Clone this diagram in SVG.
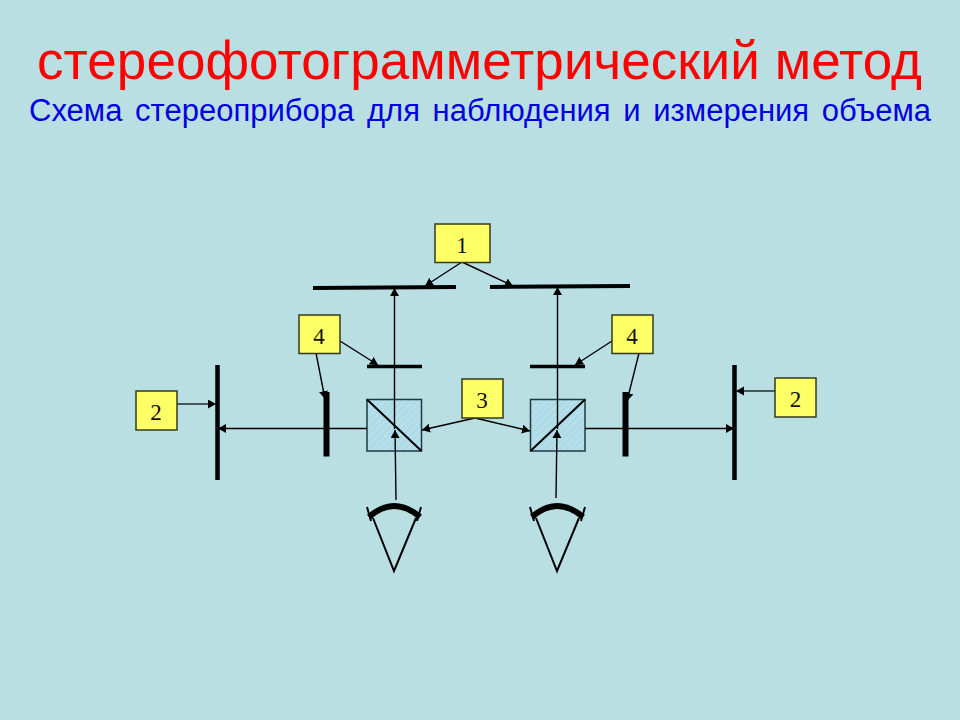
<svg xmlns="http://www.w3.org/2000/svg" width="960" height="720" viewBox="0 0 960 720">
<style>
.title{font-family:"Liberation Sans",Arial,sans-serif}
.box{fill:#ffff66;stroke:#333a1e;stroke-width:1.5}
.lbl{font-family:"Liberation Serif","Times New Roman",serif;font-size:23px;fill:#111;text-anchor:middle}
.thin{stroke:#000;stroke-width:1.4;fill:none}
.arr{stroke:#000;stroke-width:1.4;fill:none;marker-end:url(#a)}
.arr2{stroke:#1c2e32;stroke-width:1.4;fill:none;marker-end:url(#a)}
.thick{stroke:#000;fill:none}
.cube{fill:url(#h);stroke:#1c3a42;stroke-width:1.5}
</style>
<defs>
<marker id="a" markerUnits="userSpaceOnUse" markerWidth="10" markerHeight="10" refX="8" refY="4.500" orient="auto"><path d="M0 0L8 4.500L0 9Z" fill="#000"/></marker>
<pattern id="h" width="5" height="5" patternUnits="userSpaceOnUse" patternTransform="rotate(45)"><rect width="5" height="5" fill="#aedbe8"/><rect width="1" height="5" fill="#c5e2e8"/></pattern>
</defs>
<rect width="960" height="720" fill="#b9dfe3"/>
<text class="title" x="37" y="79" font-size="53" fill="#ff0000" textLength="885" lengthAdjust="spacing">стереофотограмметрический метод</text>
<text class="title" x="29" y="120.500" font-size="31" fill="#0000e0" word-spacing="4" textLength="902" lengthAdjust="spacing">Схема стереоприбора для наблюдения и измерения объема</text>

<g id="optics">
<path class="thick" stroke-width="4" d="M313 288L456 287M490 287L630 286"/>
<path class="thick" stroke-width="3.500" d="M367 366.500H422M530 366.500H585"/>
<path class="thick" stroke-width="4.500" d="M217.500 365V480M734.500 365V480"/>
<path class="thick" stroke-width="6" d="M326.500 392V456.500M625.500 392V456.500"/>
<rect class="cube" x="367" y="399.500" width="54.500" height="51.500"/>
<rect class="cube" x="530.500" y="399.500" width="54.500" height="51.500"/>
<path class="thick" stroke-width="2" d="M367 399.500L421.500 451M530.500 451L585 399.500"/>
</g>

<g id="eyes">
<path class="thick" stroke-width="6" d="M369 517Q394 495 420 517"/>
<path class="thick" stroke-width="6" d="M532 517Q557 495 583 517"/>
<path class="thick" stroke-width="2" d="M367 507L371 521M421 507L417 521M373 518L394 571L416 518"/>
<path class="thick" stroke-width="2" d="M530 507L534 521M585 507L581 521M536 518L557 571L579 518"/>
</g>

<g id="connectors">
<path class="arr" d="M394.500 429V288"/>
<path class="arr" d="M557.500 429V287"/>
<path class="arr" d="M396 500L395 430"/>
<path class="arr" d="M556 498L557 430"/>
<path class="arr" d="M367 428.500H218"/>
<path class="arr" d="M585 428.500H734"/>
<path class="arr" d="M462 262L425 286"/>
<path class="arr" d="M462 262L513 286"/>
<path class="arr" d="M340 341L378 365"/>
<path class="arr" d="M612 341L575 365"/>
<path class="arr" d="M316 353L325 399"/>
<path class="arr" d="M639 353L627 401"/>
<path class="arr2" d="M177 404H216"/>
<path class="arr2" d="M775 391H736"/>
<path class="arr" d="M475 418L422 430"/>
<path class="arr" d="M475 418L530 431"/>
</g>

<g id="n1"><rect class="box" x="435" y="224" width="55" height="38.500"/><text class="lbl" x="462" y="253">1</text></g>
<g id="n4l"><rect class="box" x="299" y="315" width="41" height="38.500"/><text class="lbl" x="319" y="344">4</text></g>
<g id="n4r"><rect class="box" x="612" y="315" width="41" height="38.500"/><text class="lbl" x="632" y="344">4</text></g>
<g id="n3"><rect class="box" x="462" y="379" width="41" height="39"/><text class="lbl" x="482" y="408">3</text></g>
<g id="n2l"><rect class="box" x="136" y="391" width="41" height="39"/><text class="lbl" x="156" y="420">2</text></g>
<g id="n2r"><rect class="box" x="775" y="378" width="41" height="39"/><text class="lbl" x="795.500" y="407">2</text></g>
</svg>
